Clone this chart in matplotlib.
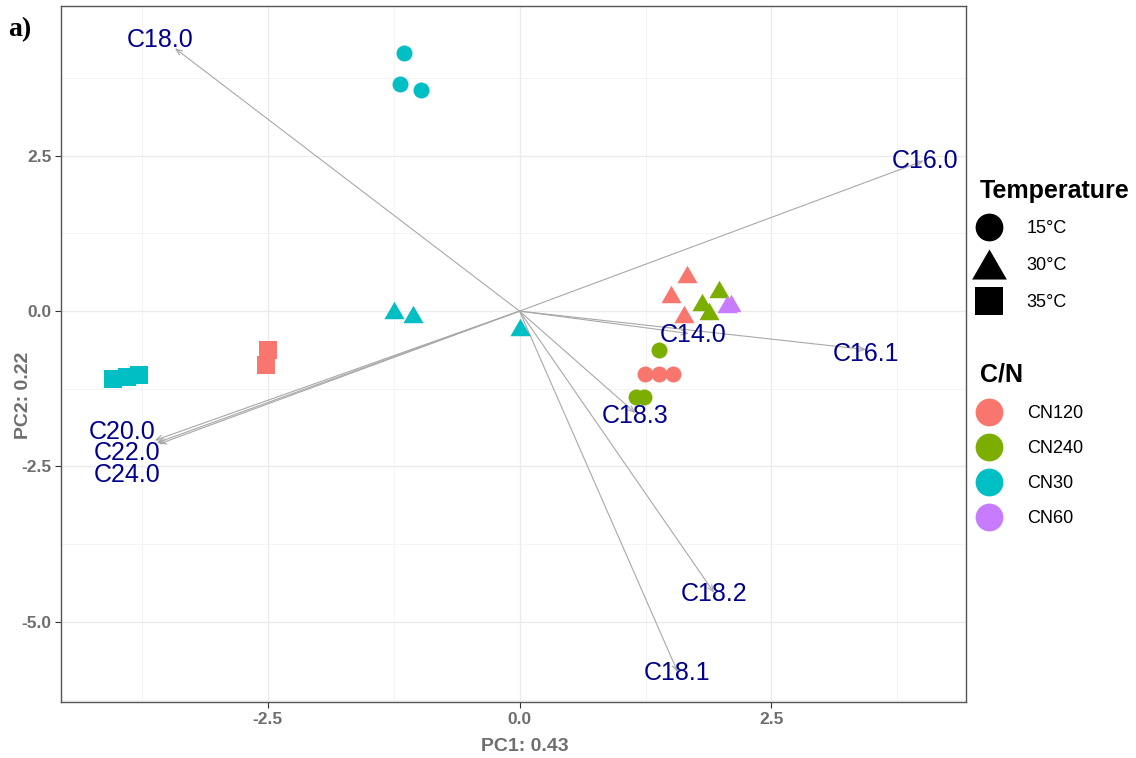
import matplotlib
matplotlib.use("Agg")
import matplotlib.pyplot as plt
from matplotlib.lines import Line2D
from matplotlib.path import Path
import numpy as np

# ---- data ----
cn_levels = ["CN120", "CN240", "CN30", "CN60"]
cn_colors = ["#F8766D", "#7CAE00", "#00BFC4", "#C77CFF"]
temp_levels = ["15°C", "30°C", "35°C"]

# scores per (C/N, temperature) group
cn30_15_x = [-1.146, -1.185, -0.977]
cn30_15_y = [4.15, 3.66, 3.56]
cn30_30_x = [-1.245, -1.058, 0.0]
cn30_30_y = [0.013, -0.045, -0.25]
cn30_35_x = [-4.03, -3.90, -3.78]
cn30_35_y = [-1.09, -1.06, -1.03]
cn120_15_x = [1.245, 1.384, 1.523]
cn120_15_y = [-1.01, -1.01, -1.01]
cn120_30_x = [1.665, 1.50, 1.635]
cn120_30_y = [0.60, 0.275, -0.045]
cn120_35_x = [-2.50, -2.52]
cn120_35_y = [-0.62, -0.87]
cn240_15_x = [1.384, 1.156, 1.236]
cn240_15_y = [-0.63, -1.38, -1.38]
cn240_30_x = [1.98, 1.81, 1.88]
cn240_30_y = [0.36, 0.14, -0.005]
cn60_30_x = [2.06, 2.10]
cn60_30_y = [0.12, 0.13]

# loadings (arrow tips) and label positions
load_names = ["C18.0", "C16.0", "C16.1", "C14.0", "C18.3", "C18.2", "C18.1",
              "C20.0", "C22.0", "C24.0"]
load_x = [-3.42, 4.01, 3.44, 1.68, 1.15, 1.93, 1.57, -3.62, -3.60, -3.58]
load_y = [4.23, 2.42, -0.62, -0.36, -1.64, -4.53, -5.81, -2.08, -2.12, -2.14]
label_x = [-3.57, 4.02, 3.44, 1.72, 1.15, 1.93, 1.56, -3.94, -3.89, -3.89]
label_y = [4.36, 2.41, -0.69, -0.38, -1.695, -4.56, -5.82, -1.95, -2.28, -2.64]

groups = [
    ("CN30", "15°C", cn30_15_x, cn30_15_y),
    ("CN30", "30°C", cn30_30_x, cn30_30_y),
    ("CN30", "35°C", cn30_35_x, cn30_35_y),
    ("CN120", "15°C", cn120_15_x, cn120_15_y),
    ("CN120", "30°C", cn120_30_x, cn120_30_y),
    ("CN120", "35°C", cn120_35_x, cn120_35_y),
    ("CN240", "15°C", cn240_15_x, cn240_15_y),
    ("CN240", "30°C", cn240_30_x, cn240_30_y),
    ("CN60", "30°C", cn60_30_x, cn60_30_y),
]

plt.rcParams['font.family'] = ['Liberation Sans', 'DejaVu Sans']
plt.rcParams['axes.unicode_minus'] = False

tri = Path([(0, 0.433), (-0.5, -0.433), (0.5, -0.433), (0, 0.433)],
           [Path.MOVETO, Path.LINETO, Path.LINETO, Path.CLOSEPOLY])
marker_map = {"15°C": "o", "30°C": tri, "35°C": "s"}
msize_map = {"15°C": 11.5, "30°C": 14.5, "35°C": 12.5}
color_map = dict(zip(cn_levels, cn_colors))

fig = plt.figure(figsize=(11.36, 7.58), dpi=100)
ax = fig.add_axes([61/1136, 1-702/758, (966-61)/1136, (702-6)/758])

ax.set_xlim(-4.55, 4.43)
ax.set_ylim(-6.29, 4.91)

# grid
ax.set_xticks([-2.5, 0.0, 2.5])
ax.set_yticks([-5.0, -2.5, 0.0, 2.5])
ax.set_xticks([-3.75, -1.25, 1.25, 3.75], minor=True)
ax.set_yticks([-6.25, -3.75, -1.25, 1.25, 3.75], minor=True)
ax.grid(which='major', color='#EBEBEB', lw=1.0)
ax.grid(which='minor', color='#F2F2F2', lw=0.6)
ax.set_axisbelow(True)
ax.tick_params(which='minor', length=0)
ax.tick_params(which='major', length=4, width=0.8, color='#333333',
               labelsize=12.5, labelcolor='#6E6E6E', pad=3)
for lab in ax.get_xticklabels() + ax.get_yticklabels():
    lab.set_fontweight('bold')
for s in ax.spines.values():
    s.set_color('#555555')
    s.set_linewidth(1.0)

# arrows
for tx, ty in zip(load_x, load_y):
    ax.annotate("", xy=(tx, ty), xytext=(0, 0),
                arrowprops=dict(arrowstyle='->,head_length=0.45,head_width=0.18',
                                color='#A8A8A8', lw=0.8, shrinkA=0, shrinkB=0),
                zorder=2)

# points
for cn, t, xs, ys in groups:
    ax.plot(xs, ys, linestyle='none', marker=marker_map[t],
            markersize=msize_map[t], color=color_map[cn],
            markeredgewidth=0, zorder=3)

# labels
for name, lx, ly in zip(load_names, label_x, label_y):
    ax.text(lx, ly, name, ha='center', va='center', fontsize=18,
            color='#00008B', zorder=4)

ax.set_xlabel("PC1: 0.43", fontsize=14, fontweight='bold', color='#6E6E6E')
ax.set_ylabel("PC2: 0.22", fontsize=14, fontweight='bold', color='#6E6E6E')
ax.xaxis.set_label_coords(0.512, -0.052)
ax.yaxis.set_label_coords(-0.032, 0.44)

# legends
fig.text(980/1136, 1-191/758, "Temperature", fontsize=18, fontweight='bold',
         ha='left', va='center')
temp_handles = [Line2D([], [], linestyle='none', marker=marker_map[t],
                       markersize=ms, color='black', markeredgewidth=0)
                for t, ms in zip(temp_levels, [20, 25, 20])]
leg1 = fig.legend(temp_handles, temp_levels,
                  loc='upper left', bbox_to_anchor=(968/1136, 1-213/758),
                  frameon=False, fontsize=13,
                  labelspacing=1.1, handletextpad=1.35,
                  borderaxespad=0, handlelength=1.5)

fig.text(980/1136, 1-374/758, "C/N", fontsize=18, fontweight='bold',
         ha='left', va='center')
cn_handles = [Line2D([], [], linestyle='none', marker='o', markersize=20,
                     color=c, markeredgewidth=0) for c in cn_colors]
leg2 = fig.legend(cn_handles, cn_levels,
                  loc='upper left', bbox_to_anchor=(968/1136, 1-398/758),
                  frameon=False, fontsize=13,
                  labelspacing=1.0, handletextpad=1.35,
                  borderaxespad=0, handlelength=1.5)

fig.text(8/1136, 1-30/758, "a)", fontsize=20, fontweight='bold',
         family=['Liberation Serif', 'DejaVu Serif'], va='center', ha='left')

fig.savefig("out.png", dpi=100)
